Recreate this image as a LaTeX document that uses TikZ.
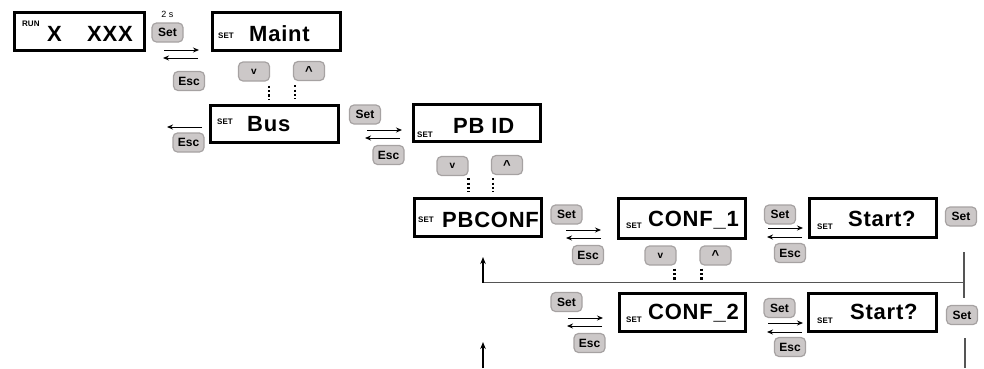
\documentclass[tikz,border=0pt]{standalone}
\usepackage{fontspec}
\setmainfont{Liberation Sans}
\newfontfamily\lcdfont[LetterSpace=3.5]{Liberation Sans}
\newfontfamily\btnfont{Liberation Sans}
\usetikzlibrary{arrows.meta}
\definecolor{btnfill}{HTML}{CCC8C8}
\definecolor{btnline}{HTML}{A6A2A2}
\definecolor{retline}{HTML}{555555}
\tikzset{
  lcd/.style={draw=black, line width=3pt, inner sep=0pt, outer sep=0pt},
  lcdtxt/.style={anchor=base west, inner sep=0pt, font=\lcdfont\fontsize{22}{22}\selectfont\bfseries},
  settxt/.style={anchor=base west, inner sep=0pt, font=\fontsize{8}{8}\selectfont\bfseries},
  btn/.style={draw=btnline, fill=btnfill, line width=1.2pt, rounded corners=4.5pt,
    minimum width=31pt, minimum height=19pt, inner sep=0pt,
    font=\btnfont\fontsize{12}{12}\selectfont\bfseries},
  navbtn/.style={btn, font=\btnfont\fontsize{10}{10}\selectfont\bfseries},
  arr/.style={line width=0.9pt, -{Stealth[length=6pt,width=5pt]}},
  dots/.style={line width=2.6pt, dash pattern=on 2.2pt off 2.2pt},
  ret/.style={draw=retline, line width=1.3pt},
  retarr/.style={ret, draw=black, -{Stealth[length=7pt,width=5.5pt]}}
}
\begin{document}
\begin{tikzpicture}[x=1pt,y=-1pt]
\useasboundingbox (0,0) rectangle (984,368);

% ---- LCD boxes
\node[lcd, minimum width=130pt, minimum height=38pt] (run) at (79.5,31.5) {};
\node[lcd, minimum width=128pt, minimum height=38pt] (maint) at (276.5,31.5) {};
\node[lcd, minimum width=128pt, minimum height=37pt] (bus) at (274.5,124) {};
\node[lcd, minimum width=127pt, minimum height=37pt] (pbid) at (477,122.5) {};
\node[lcd, minimum width=127pt, minimum height=38pt] (pbconf) at (478,217.5) {};
\node[lcd, minimum width=127pt, minimum height=40pt] (conf1) at (682,218.5) {};
\node[lcd, minimum width=127pt, minimum height=39pt] (start1) at (873,218) {};
\node[lcd, minimum width=126pt, minimum height=38pt] (conf2) at (682.5,312.5) {};
\node[lcd, minimum width=128pt, minimum height=38pt] (start2) at (872.5,312.5) {};

% ---- LCD texts
\node[settxt] (runlbl) at (22,26) {RUN};
\node[lcdtxt] (runx) at (47,41.5) {X};
\node[lcdtxt] (runxxx) at (87,41.5) {XXX};
\node[settxt] (maintset) at (218,38) {SET};
\node[lcdtxt] (mainttxt) at (249,41.5) {Maint};
\node[settxt] (busset) at (217,124) {SET};
\node[lcdtxt] (bustxt) at (247,131.5) {Bus};
\node[settxt] (pbidset) at (417,137) {SET};
\node[lcdtxt] (pbidtxt) at (453,133.5) {PB ID};
\node[settxt] (pbconfset) at (418,222) {SET};
\node[lcdtxt] (pbconftxt) at (442,227) {PBCONF};
\node[settxt] (conf1set) at (626,228) {SET};
\node[lcdtxt] (conf1txt) at (648,226.5) {CONF\_1};
\node[settxt] (start1set) at (817,229) {SET};
\node[lcdtxt] (start1txt) at (848,226.5) {Start?};
\node[settxt] (conf2set) at (626,322) {SET};
\node[lcdtxt] (conf2txt) at (648,319.5) {CONF\_2};
\node[settxt] (start2set) at (817,323) {SET};
\node[lcdtxt] (start2txt) at (850,319.5) {Start?};

% ---- buttons
\node[btn] (set0) at (167.5,32.5) {Set};
\node[inner sep=0pt, font=\btnfont\fontsize{9}{9}\selectfont] (twos) at (167.5,14.5) {2 s};
\node[btn] (esc0) at (189,81) {Esc};
\node[navbtn] (dn1) at (254,71.5) {v};
\node[navbtn] (up1) at (309,71) {\raisebox{-3pt}{\fontsize{13}{13}\selectfont\textasciicircum}};
\node[btn] (esc1) at (188.5,142.5) {Esc};
\node[btn] (set1) at (365,114.5) {Set};
\node[btn] (esc2) at (388.5,155) {Esc};
\node[navbtn] (dn2) at (452.5,166) {v};
\node[navbtn] (up2) at (507,165) {\raisebox{-3pt}{\fontsize{13}{13}\selectfont\textasciicircum}};
\node[btn] (set2) at (566.5,214.5) {Set};
\node[btn] (esc3) at (588,255) {Esc};
\node[navbtn] (dn3) at (660.5,255.5) {v};
\node[navbtn] (up3) at (715.5,255.5) {\raisebox{-3pt}{\fontsize{13}{13}\selectfont\textasciicircum}};
\node[btn] (set3) at (780,214.5) {Set};
\node[btn] (esc4) at (790,253) {Esc};
\node[btn] (set4) at (961,216.5) {Set};
\node[btn] (set5) at (566.5,302) {Set};
\node[btn] (esc5) at (589.5,343) {Esc};
\node[btn] (set6) at (779.5,308) {Set};
\node[btn] (esc6) at (790,347) {Esc};
\node[btn] (set7) at (962,315) {Set};

% ---- transition arrows
\coordinate (a0r1) at (164,50); \coordinate (a0r2) at (199,50);
\coordinate (a0l1) at (198,58); \coordinate (a0l2) at (163,58);
\draw[arr] (a0r1) -- (a0r2);
\draw[arr] (a0l1) -- (a0l2);
\coordinate (b0l1) at (202,127); \coordinate (b0l2) at (167,127);
\draw[arr] (b0l1) -- (b0l2);
\coordinate (a1r1) at (367,130); \coordinate (a1r2) at (402,130);
\coordinate (a1l1) at (400,138); \coordinate (a1l2) at (365,138);
\draw[arr] (a1r1) -- (a1r2);
\draw[arr] (a1l1) -- (a1l2);
\coordinate (a2r1) at (566,230); \coordinate (a2r2) at (601,230);
\coordinate (a2l1) at (601,238); \coordinate (a2l2) at (566,238);
\draw[arr] (a2r1) -- (a2r2);
\draw[arr] (a2l1) -- (a2l2);
\coordinate (a3r1) at (768,228); \coordinate (a3r2) at (803,228);
\coordinate (a3l1) at (802,237); \coordinate (a3l2) at (767,237);
\draw[arr] (a3r1) -- (a3r2);
\draw[arr] (a3l1) -- (a3l2);
\coordinate (a5r1) at (568,318); \coordinate (a5r2) at (603,318);
\coordinate (a5l1) at (602,326); \coordinate (a5l2) at (567,326);
\draw[arr] (a5r1) -- (a5r2);
\draw[arr] (a5l1) -- (a5l2);
\coordinate (a6r1) at (768,323); \coordinate (a6r2) at (803,323);
\coordinate (a6l1) at (802,332); \coordinate (a6l2) at (767,332);
\draw[arr] (a6r1) -- (a6r2);
\draw[arr] (a6l1) -- (a6l2);

% ---- dotted scroll lines
\draw[dots] (dn1.south east) ++(-1,4) -- ++(0,14);
\draw[dots] (up1.south west) ++(2,4) -- ++(0,14);
\draw[dots] (dn2.south east) ++(0,2) -- ++(0,14);
\draw[dots] (up2.south west) ++(2,3) -- ++(0,14);
\draw[dots] (dn3.south east) ++(-2,3) -- ++(0,14);
\draw[dots] (up3.south west) ++(2,3) -- ++(0,14);

% ---- return lines
\coordinate (v1top) at (964,252);
\coordinate (v1bot) at (964,298);
\coordinate (hcorner) at (964,282.5);
\coordinate (hleft) at (483,282.5);
\coordinate (pbin1) at (483,257);
\draw[ret] (v1top) -- (v1bot);
\draw[ret] (hcorner) -- (hleft);
\draw[retarr] (hleft) -- (pbin1);
\coordinate (v2top) at (965,338);
\coordinate (v2bot) at (965,368);
\draw[ret] (v2top) -- (v2bot);
\coordinate (l2bot) at (483,368);
\coordinate (l2top) at (483,342);
\draw[retarr] (l2bot) -- (l2top);
\end{tikzpicture}
\end{document}
